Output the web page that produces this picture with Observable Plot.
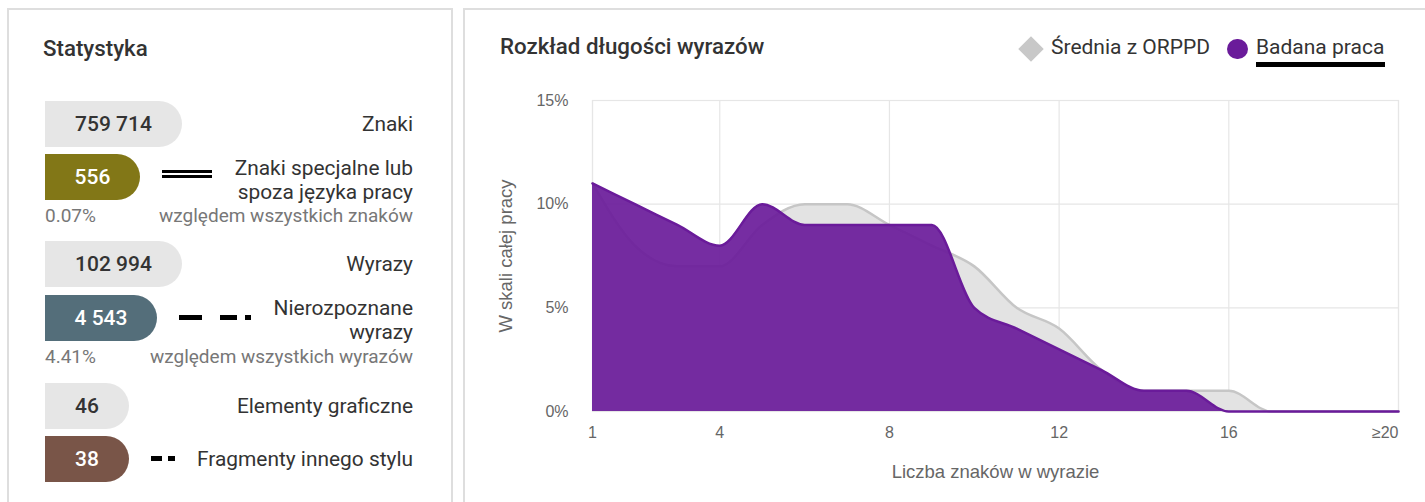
<!DOCTYPE html>
<html><head><meta charset="utf-8">
<script src="https://cdn.jsdelivr.net/npm/d3@7"></script>
<script src="https://cdn.jsdelivr.net/npm/@observablehq/plot@0.6"></script>
<style>
body{margin:0;width:1425px;height:502px;overflow:hidden;background:#fff;font-family:Roboto,"Noto Sans",sans-serif;color:#333;position:relative}
.panel{position:absolute;border:2px solid #dedede;box-sizing:border-box;background:#fff}
.abs{position:absolute;white-space:nowrap}
.title{font-size:22.3px;font-weight:500;line-height:22px;color:#333}
.pill{position:absolute;left:45px;height:46px;line-height:46px;border-radius:0 23px 23px 0;text-align:center;font-size:21px;font-weight:500}
.lab{position:absolute;left:0;width:413px;text-align:right;font-size:20.9px;line-height:24px;color:#333}
.sub{position:absolute;font-size:19px;line-height:20px;color:#777}
.leg{font-size:21px;line-height:22px;color:#333}
#chart{position:absolute;left:465px;top:80px}
</style></head><body>
<div class="panel" style="left:7px;top:8px;width:446px;height:560px"></div>
<div class="panel" style="left:463px;top:8px;width:1000px;height:560px"></div>
<div class="abs title" style="left:43px;top:37px">Statystyka</div>
<div id="stats"></div>
<div class="abs title" style="left:500px;top:35px">Rozkład długości wyrazów</div>
<div class="abs" style="left:1022px;top:40px;width:18px;height:18px;background:#c8c8c8;transform:rotate(45deg)"></div>
<div class="abs leg" style="left:1051px;top:36px" id="leg1"></div>
<div class="abs" style="left:1227px;top:38.5px;width:20.5px;height:20.5px;border-radius:50%;background:#6a1b9a"></div>
<div class="abs leg" style="left:1256px;top:36px" id="leg2"></div>
<div class="abs" style="left:1256px;top:62px;width:129px;height:4.5px;background:#000"></div>
<div id="chart"></div>
<script>
// ---- data ----
const seriesNames = ["Średnia z ORPPD", "Badana praca"];
const wordLengths = [1,2,3,4,5,6,7,8,9,10,11,12,13,14,15,16,17,18,19,20];
const averageORPPD = [11,8,7,7,9,10,10,9,8,7,5,4,2,1,1,1,0,0,0,0];
const studiedWork = [11,10,9,8,10,9,9,9,9,5,4,3,2,1,1,0,0,0,0,0];
const xTickValues = [1,4,8,12,16,20];
const xTickLabels = ["1","4","8","12","16","≥20"];
const yTickValues = [0,5,10,15];
const xTitle = "Liczba znaków w wyrazie";
const yTitle = "W skali całej pracy";

const statValues = ["759 714","556","102 994","4 543","46","38"];
const statLabels = ["Znaki","Znaki specjalne lub<br>spoza języka pracy","Wyrazy","Nierozpoznane<br>wyrazy","Elementy graficzne","Fragmenty innego stylu"];
const statPercents = [null,"0.07%",null,"4.41%",null,null];
const statPercentNotes = [null,"względem wszystkich znaków",null,"względem wszystkich wyrazów",null,null];
const statColors = ["#e6e6e6","#827717","#e6e6e6","#546e7a","#e6e6e6","#795548"];

// ---- stats panel (layout) ----
const pillTops = [101,154,241,295,383,436];
const pillWidths = [137,95,137,112,84,84];
const labelTops = [112,156,252,296,394,447];
const st = document.getElementById("stats");
let html = "";
statValues.forEach((v,i)=>{
  const grey = statColors[i] === "#e6e6e6";
  html += `<div class="pill" style="top:${pillTops[i]}px;width:${pillWidths[i]}px;background:${statColors[i]};color:${grey?"#333":"#fff"}">${v}</div>`;
  html += `<div class="lab" style="top:${labelTops[i]}px">${statLabels[i]}</div>`;
  if (statPercents[i]) {
    const t = i===1?206:347;
    html += `<div class="sub" style="left:45px;top:${t}px">${statPercents[i]}</div>`;
    html += `<div class="sub" style="left:0;width:413px;text-align:right;top:${t}px">${statPercentNotes[i]}</div>`;
  }
});
// line-style samples
html += `<div class="abs" style="left:162px;top:170px;width:50px;height:2.5px;background:#000"></div>`;
html += `<div class="abs" style="left:162px;top:175px;width:50px;height:2.5px;background:#000"></div>`;
[[179,23],[220,17],[245,6]].forEach(([l,w])=>{ html += `<div class="abs" style="left:${l}px;top:314.5px;width:${w}px;height:5px;background:#000"></div>`; });
[[151,11],[168,7]].forEach(([l,w])=>{ html += `<div class="abs" style="left:${l}px;top:455.5px;width:${w}px;height:5px;background:#000"></div>`; });
st.innerHTML = html;
document.getElementById("leg1").textContent = seriesNames[0];
document.getElementById("leg2").textContent = seriesNames[1];

// ---- chart ----
const rows = wordLengths.map((len,i)=>({len, avg: averageORPPD[i], work: studiedWork[i]}));
const ticks = xTickValues.map((v,i)=>({v, label: xTickLabels[i]}));
const gridColor = "#e6e6e6";
const chart = Plot.plot({
  width: 960, height: 422,
  marginLeft: 127, marginRight: 27, marginTop: 20, marginBottom: 91,
  style: {fontFamily: "'Liberation Sans', Arial, sans-serif", fontSize: "16px", color: "#666", background: "transparent"},
  x: {type: "linear", domain: [1, 20], axis: null},
  y: {domain: [0, 15], axis: null},
  marks: [
    Plot.gridX(xTickValues, {stroke: gridColor, strokeOpacity: 1, strokeWidth: 1.2}),
    Plot.gridY(yTickValues, {stroke: gridColor, strokeOpacity: 1, strokeWidth: 1.2}),
    Plot.frame({stroke: gridColor, strokeWidth: 1.2}),
    Plot.areaY(rows, {x: "len", y: "avg", curve: "monotone-x", fill: "#e3e3e3"}),
    Plot.lineY(rows, {x: "len", y: "avg", curve: "monotone-x", stroke: "#c6c6c6", strokeWidth: 2.5}),
    Plot.areaY(rows, {x: "len", y: "work", curve: "monotone-x", fill: "#6a1b9a", fillOpacity: 0.92}),
    Plot.lineY(rows, {x: "len", y: "work", curve: "monotone-x", stroke: "#6a1b9a", strokeWidth: 2.5}),
    Plot.axisY(yTickValues, {tickSize: 0, tickPadding: 24, tickFormat: d => d + "%", label: null, fontSize: 16}),
    Plot.text(ticks.slice(0, -1), {x: "v", text: "label", frameAnchor: "bottom", dy: 26, fontSize: 16}),
    Plot.text(ticks.slice(-1), {x: "v", text: "label", frameAnchor: "bottom", dy: 26, fontSize: 16, textAnchor: "end"}),
    Plot.text([xTitle], {text: d => d, frameAnchor: "bottom", dy: 66, fontSize: 18.5}),
    Plot.text([yTitle], {text: d => d, frameAnchor: "left", textAnchor: "middle", dx: -86, rotate: -90, fontSize: 18.5})
  ]
});
document.getElementById("chart").appendChild(chart);
</script>
</body></html>
